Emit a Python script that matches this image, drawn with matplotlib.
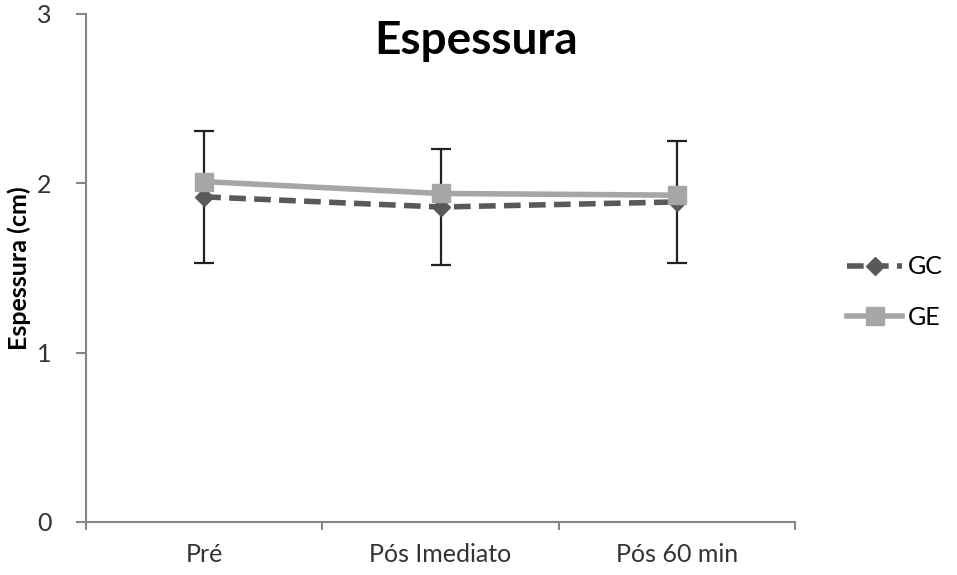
import matplotlib
matplotlib.use('Agg')
import matplotlib.pyplot as plt
from matplotlib.lines import Line2D

plt.rcParams['font.family'] = ['Lato', 'DejaVu Sans']

momentos = ['Pré', 'Pós Imediato', 'Pós 60 min']
gc = [1.92, 1.86, 1.89]
gc_err = [0.39, 0.34, 0.36]
ge = [2.01, 1.94, 1.93]

fig = plt.figure(figsize=(9.57, 5.75), dpi=100)
ax = fig.add_axes([0.0899, 0.0922, 0.7408, 0.8835])

x = list(range(len(momentos)))
ax.errorbar(x, gc, yerr=gc_err, color='#595959', lw=4, ls=(0, (3, 1.5)),
            marker='D', ms=9, ecolor='#222222', elinewidth=1.6, capsize=7,
            capthick=1.6, zorder=2)
ax.plot(x, ge, color='#a6a6a6', lw=4, marker='s', ms=13, zorder=3)

ax.set_xlim(-0.5, 2.5)
ax.set_ylim(0, 3)
ax.set_yticks([0, 1, 2, 3])
ax.set_xticks([-0.5, 0.5, 1.5, 2.5])
ax.set_xticklabels([])
ax.set_xticks(x, minor=True)
ax.set_xticklabels(momentos, minor=True)
ax.tick_params(axis='x', which='minor', length=0, pad=15, labelsize=18, labelcolor='#333333')
ax.tick_params(axis='x', which='major', length=6, color='#868686', width=1.5)
ax.tick_params(axis='y', length=7, color='#868686', width=1.5, pad=18,
               labelsize=18, labelcolor='#333333')
for s in ['top', 'right']:
    ax.spines[s].set_visible(False)
for s in ['left', 'bottom']:
    ax.spines[s].set_color('#868686')
    ax.spines[s].set_linewidth(1.5)

ax.set_ylabel('Espessura (cm)', fontsize=18, fontweight='bold')
ax.yaxis.set_label_coords(-0.078, 0.5)
fig.text(0.497, 0.928, 'Espessura', ha='center', va='center', fontsize=33, fontweight='bold')

handles = [Line2D([], [], color='#595959', lw=4, ls=(0, (3, 1.5)), marker='D', ms=9),
           Line2D([], [], color='#a6a6a6', lw=4, marker='s', ms=13)]
fig.legend(handles, ['GC', 'GE'], loc='center left', bbox_to_anchor=(0.862, 0.492),
           frameon=False, fontsize=18, handlelength=2.2, labelspacing=1.1,
           handletextpad=0.2)

fig.savefig('out.png', dpi=100)
